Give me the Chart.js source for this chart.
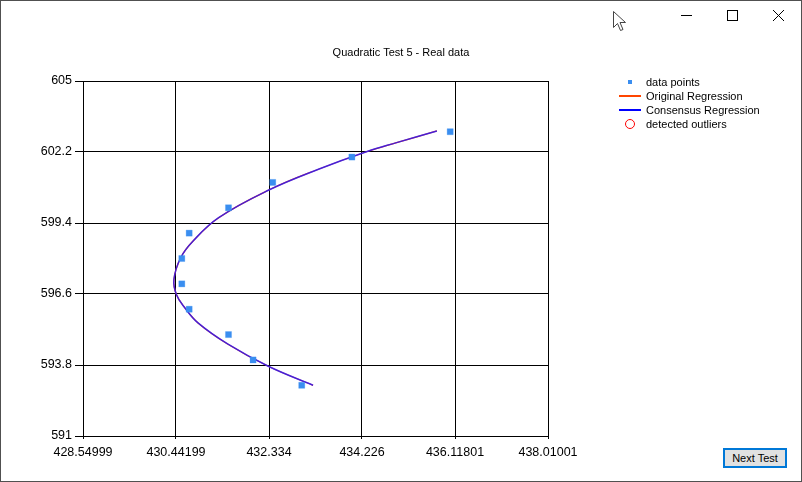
<!DOCTYPE html>
<html>
<head>
<meta charset="utf-8">
<title>Quadratic Test 5 - Real data</title>
<script src="https://cdn.jsdelivr.net/npm/chart.js@4.4.1/dist/chart.umd.min.js"></script>
<style>
  html, body { margin: 0; padding: 0; background: #fff; }
  #win { position: relative; width: 802px; height: 482px; overflow: hidden; background: #fff;
         font-family: "Liberation Sans", Arial, sans-serif; color: #000; }
  #c { position: absolute; left: 0; top: 0; }
  #frame { position: absolute; left: 0; top: 0; width: 800px; height: 480px;
           border: 1px solid #505050; pointer-events: none; }
  #caption { position: absolute; left: 0; top: 46px; width: 802px; text-align: center; font-size: 11px; }
  #legend { position: absolute; left: 612px; top: 75px; font-size: 11px; }
  .item { position: relative; height: 14px; line-height: 14px; padding-left: 34px; white-space: nowrap; }
  .mk { position: absolute; }
  #btn { position: absolute; left: 723px; top: 448px; width: 60px; height: 16px;
         border: 2px solid #0078d7; background: #e1e1e1; font-size: 11px;
         line-height: 16px; text-align: center; }
  #chrome { position: absolute; left: 0; top: 0; }
</style>
</head>
<body>
<div id="win">
  <canvas id="c" width="802" height="482"></canvas>
  <div id="caption">Quadratic Test 5 - Real data</div>
  <div id="legend"></div>
  <div id="btn">Next Test</div>
  <svg id="chrome" width="802" height="40" viewBox="0 0 802 40">
    <!-- pointer -->
    <path d="M613.5 11.5 L613.5 27.5 L617.5 23.5 L620.5 30.5 L623 29.5 L620 22.5 L625.5 22.5 Z"
          fill="#fff" stroke="#444" stroke-width="1"/>
    <!-- minimize / maximize / close -->
    <line x1="681" y1="15.5" x2="692" y2="15.5" stroke="#000" stroke-width="1"/>
    <rect x="727.5" y="10.5" width="10" height="10" fill="none" stroke="#000" stroke-width="1"/>
    <line x1="773" y1="10" x2="784" y2="21" stroke="#000" stroke-width="1"/>
    <line x1="784" y1="10" x2="773" y2="21" stroke="#000" stroke-width="1"/>
  </svg>
  <div id="frame"></div>
</div>
<script>
// Measured samples
const pointsX = [436.02, 434.02, 432.41, 431.51, 430.71, 430.56, 430.56, 430.71, 431.51, 432.01, 433.00];
const pointsY = [603, 602, 601, 600, 599, 598, 597, 596, 595, 594, 593];

// Fitted regression curve, sampled along its length (x as a function of y)
const curveX = [433.23, 432.32, 431.50, 430.89, 430.62, 430.45, 430.40, 430.54, 430.79, 431.31, 432.33, 433.34, 434.33, 434.93, 435.75];
const curveY = [593.00, 593.75, 594.62, 595.46, 596.06, 596.58, 597.18, 598.04, 598.69, 599.61, 600.70, 601.52, 602.22, 602.57, 603.03];

// Outliers flagged by the consensus fit (none for this data set)
const outliersX = [];
const outliersY = [];

// Axis ticks
const xTicks = [428.54999, 430.44199, 432.334, 434.226, 436.11801, 438.01001];
const xTickLabels = ["428.54999", "430.44199", "432.334", "434.226", "436.11801", "438.01001"];
const yTicks = [591, 593.8, 596.6, 599.4, 602.2, 605];
const yTickLabels = ["591", "593.8", "596.6", "599.4", "602.2", "605"];

const seriesNames = ["data points", "Original Regression", "Consensus Regression", "detected outliers"];

const toXY = (xs, ys) => xs.map((x, i) => ({ x: x, y: ys[i] }));

const AXIS_FONT = { family: "'Liberation Sans', Arial, sans-serif", size: 12.5 };

const datasets = [
  {
    label: seriesNames[0],
    data: toXY(pointsX, pointsY),
    showLine: false,
    pointStyle: 'rect',
    pointRadius: 4.3,
    pointBackgroundColor: '#3a8ef0',
    pointBorderColor: 'rgba(58,142,240,0.45)',
    pointBorderWidth: 0.6,
    order: 0,
    legendKind: 'square',
    legendColor: '#3a8ef0'
  },
  {
    label: seriesNames[1],
    data: toXY(curveX, curveY),
    showLine: true,
    borderColor: '#ff4500',
    borderWidth: 1.3,
    pointRadius: 0,
    tension: 0.4,
    order: 3,
    legendKind: 'line',
    legendColor: '#ff4500'
  },
  {
    label: seriesNames[2],
    data: toXY(curveX, curveY),
    showLine: true,
    borderColor: 'rgba(30,20,255,0.82)',
    borderWidth: 1.5,
    pointRadius: 0,
    tension: 0.4,
    order: 2,
    legendKind: 'line',
    legendColor: '#0000ff'
  },
  {
    label: seriesNames[3],
    data: toXY(outliersX, outliersY),
    showLine: false,
    pointStyle: 'circle',
    pointRadius: 4.5,
    pointBackgroundColor: 'rgba(0,0,0,0)',
    pointBorderColor: '#ff0000',
    pointBorderWidth: 1,
    order: 1,
    legendKind: 'circle',
    legendColor: '#ff0000'
  }
];

const chart = new Chart(document.getElementById('c'), {
  type: 'scatter',
  data: { datasets: datasets },
  options: {
    responsive: false,
    animation: false,
    devicePixelRatio: 1,
    layout: { padding: { left: 0, top: 81, right: 254, bottom: 0 } },
    plugins: { legend: { display: false }, title: { display: false }, tooltip: { enabled: false } },
    scales: {
      x: {
        type: 'linear',
        min: xTicks[0],
        max: xTicks[xTicks.length - 1],
        afterBuildTicks: s => { s.ticks = xTicks.map(v => ({ value: v })); },
        afterFit: s => { s.height = 46; },
        ticks: {
          autoSkip: false, maxRotation: 0, color: '#000', font: AXIS_FONT, padding: 6,
          callback: (v, i) => xTickLabels[i]
        },
        grid: { color: '#000', lineWidth: 1, tickLength: 3, drawTicks: true },
        border: { color: '#000', width: 1 }
      },
      y: {
        type: 'linear',
        min: yTicks[0],
        max: yTicks[yTicks.length - 1],
        afterBuildTicks: s => { s.ticks = yTicks.map(v => ({ value: v })); },
        afterFit: s => { s.width = 83; },
        ticks: {
          autoSkip: false, color: '#000', font: AXIS_FONT, padding: 3,
          callback: (v, i) => yTickLabels[i]
        },
        grid: { color: '#000', lineWidth: 1, tickLength: 8, drawTicks: true },
        border: { color: '#000', width: 1 }
      }
    }
  }
});

// Legend built from the chart's own datasets
const legend = document.getElementById('legend');
chart.data.datasets.forEach(ds => {
  const row = document.createElement('div');
  row.className = 'item';
  const mk = document.createElement('span');
  mk.className = 'mk';
  if (ds.legendKind === 'square') {
    Object.assign(mk.style, { left: '16px', top: '5px', width: '4px', height: '4px', background: ds.legendColor });
  } else if (ds.legendKind === 'line') {
    Object.assign(mk.style, { left: '7px', top: '6px', width: '22px', height: '2px', background: ds.legendColor });
  } else {
    Object.assign(mk.style, { left: '13px', top: '2px', width: '8px', height: '8px', border: '1px solid ' + ds.legendColor, borderRadius: '50%' });
  }
  row.appendChild(mk);
  row.appendChild(document.createTextNode(ds.label));
  legend.appendChild(row);
});
</script>
</body>
</html>
